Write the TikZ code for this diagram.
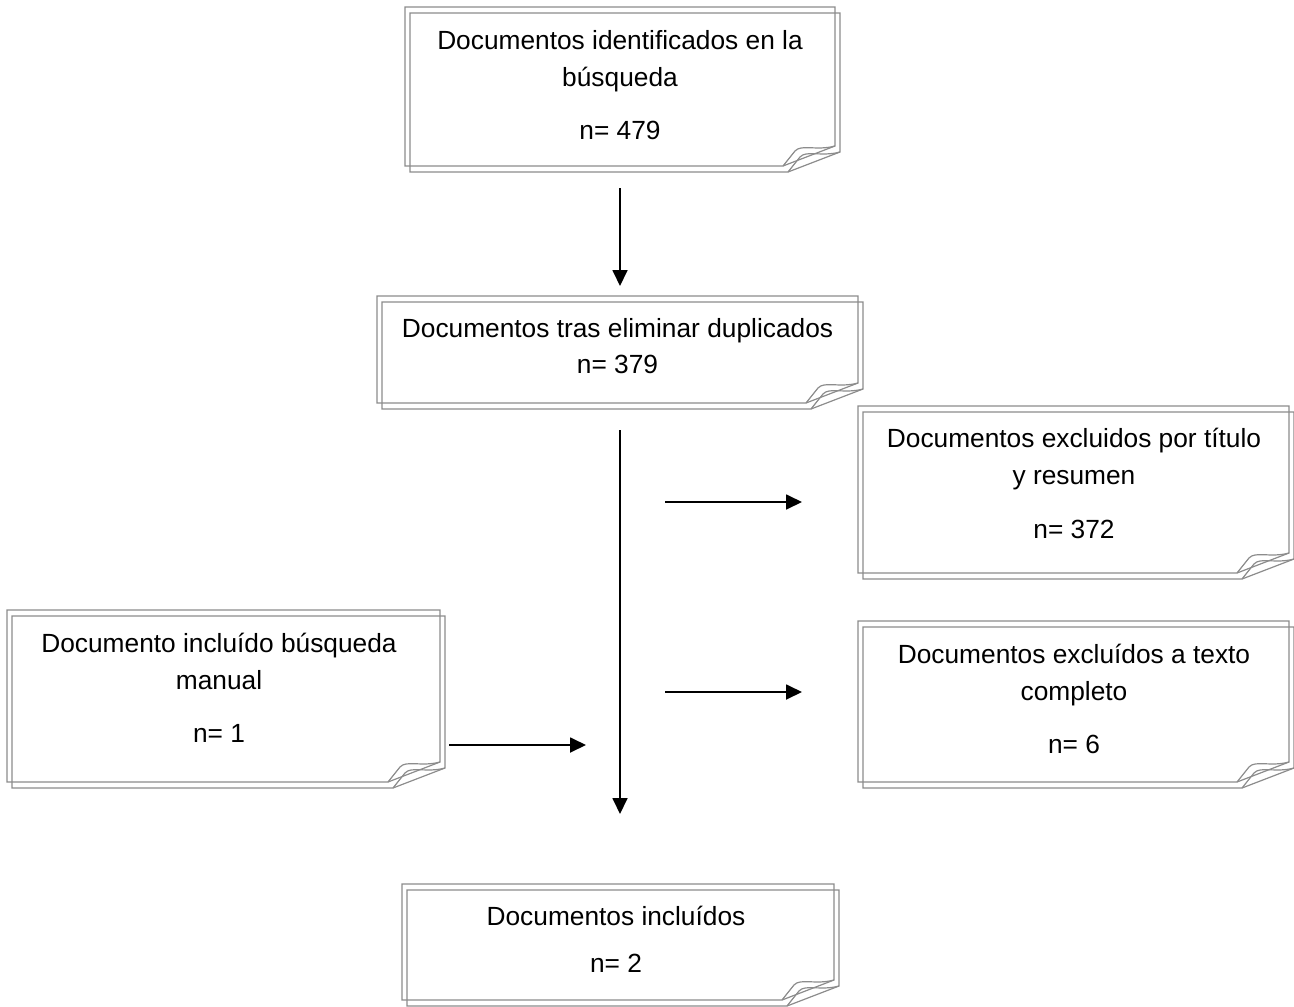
\documentclass[tikz,border=0pt]{standalone}
\usepackage{fontspec}
\setmainfont{Liberation Sans}
\usetikzlibrary{arrows.meta,fit}
\tikzset{
  fold/.style={draw=black!45, line width=1.2pt, line join=miter},
  boxarea/.style={inner sep=0pt, draw=none},
  txt/.style={anchor=base, inner sep=0pt, font=\fontsize{26.3}{37}\selectfont, text=black},
  arr/.style={line width=1.8pt, -{Triangle[length=16pt,width=15pt]}}
}
\newcommand\foldoutline[4]{%
  \draw[fold] (#1,#2) -- (#3,#2) -- (#3,#4-20) -- (#3-52,#4) -- (#1,#4) -- cycle;
  \draw[fold] (#3-52,#4) -- (#3-40,#4-15) .. controls (#3-34,#4-22) and (#3-18,#4-15) .. (#3,#4-20);
}
\newcommand\paperbox[5]{%
  \coordinate (#1nw) at (#2,#3);
  \coordinate (#1se) at (#4,#5);
  \node[boxarea, fit=(#1nw)(#1se)] (#1) {};
  \foldoutline{#2}{#3}{#4}{#5}
  \foldoutline{#2+5}{#3+6}{#4+5}{#5+6}
}
\begin{document}
\begin{tikzpicture}[x=1pt,y=-1pt]
\useasboundingbox (0,0) rectangle (1294,1007);
\fill[white] (0,0) rectangle (1294,1007);

\paperbox{b1}{405}{7}{835}{166}
\paperbox{b2}{377}{296}{858}{403}
\paperbox{b3}{858}{406}{1289}{573}
\paperbox{b4}{858}{621}{1289}{782}
\paperbox{b5}{7}{610}{440}{782}
\paperbox{b6}{402}{884}{834}{1000}

\node[txt] (b1a) at (620,49) {Documentos identificados en la};
\node[txt] (b1b) at (620,86) {búsqueda};
\node[txt] (b1n) at (620,139) {n= 479};

\node[txt] (b2a) at (617.5,337) {Documentos tras eliminar duplicados};
\node[txt] (b2n) at (617.5,373) {n= 379};

\node[txt] (b3a) at (1074,447) {Documentos excluidos por título};
\node[txt] (b3b) at (1074,484) {y resumen};
\node[txt] (b3n) at (1074,538) {n= 372};

\node[txt] (b4a) at (1074,663) {Documentos excluídos a texto};
\node[txt] (b4b) at (1074,700) {completo};
\node[txt] (b4n) at (1074,753) {n= 6};

\node[txt] (b5a) at (219,652) {Documento incluído búsqueda};
\node[txt] (b5b) at (219,689) {manual};
\node[txt] (b5n) at (219,742) {n= 1};

\node[txt] (b6a) at (616,925) {Documentos incluídos};
\node[txt] (b6n) at (616,972) {n= 2};

\coordinate (v1s) at (620,188);
\coordinate (v1e) at (620,286);
\coordinate (v2s) at (620,430);
\coordinate (v2e) at (620,814);
\coordinate (h1s) at (665,502);
\coordinate (h1e) at (802,502);
\coordinate (h2s) at (665,692);
\coordinate (h2e) at (802,692);
\coordinate (h3s) at (449,745);
\coordinate (h3e) at (586,745);

\draw[arr] (v1s) -- (v1e);
\draw[arr] (v2s) -- (v2e);
\draw[arr] (h1s) -- (h1e);
\draw[arr] (h2s) -- (h2e);
\draw[arr] (h3s) -- (h3e);
\end{tikzpicture}
\end{document}
